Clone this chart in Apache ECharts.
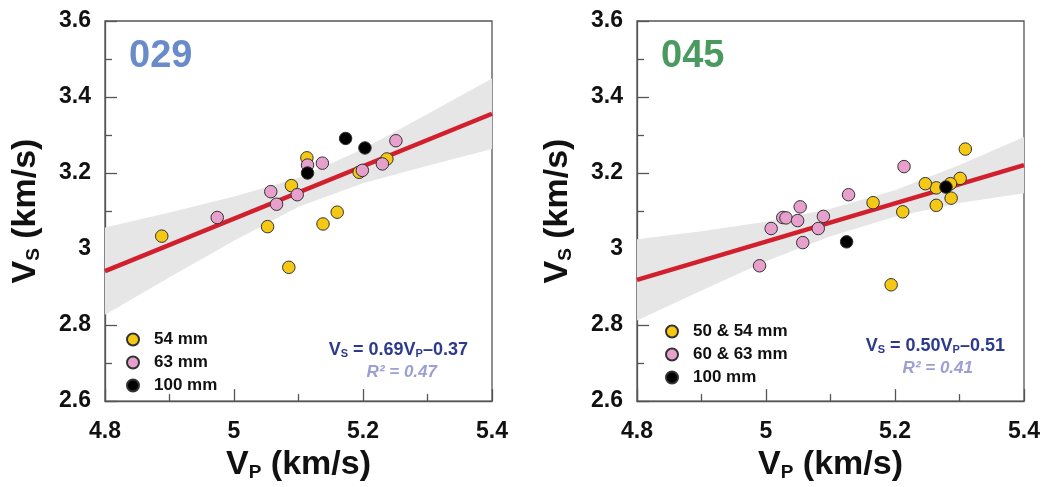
<!DOCTYPE html>
<html>
<head>
<meta charset="utf-8">
<script src="https://cdn.jsdelivr.net/npm/echarts@6/dist/echarts.min.js"></script>
<style>html,body{margin:0;padding:0;background:#fff}#c{width:1043px;height:487px}</style>
</head>
<body>
<div id="c"></div>
<script>
// ---- data ----
const xTicks = [4.8, 5.0, 5.2, 5.4];
const yTicks = [2.6, 2.8, 3.0, 3.2, 3.4, 3.6];

const titles = ['029', '045'];
const legendNamesA = ['54 mm', '63 mm', '100 mm'];
const legendNamesB = ['50 & 54 mm', '60 & 63 mm', '100 mm'];

const a_yellow = [[4.888,3.034],[5.052,3.059],[5.085,2.952],[5.089,3.167],[5.113,3.240],[5.138,3.066],[5.160,3.097],[5.194,3.202],[5.237,3.237]];
const a_pink   = [[4.974,3.083],[5.057,3.151],[5.066,3.118],[5.098,3.143],[5.114,3.221],[5.137,3.226],[5.199,3.207],[5.230,3.224],[5.251,3.285]];
const a_black  = [[5.114,3.200],[5.173,3.291],[5.203,3.266]];
const a_fit    = [[4.8,2.942],[5.4,3.356]];
const a_bandX  = [4.8, 4.9, 5.0, 5.1, 5.2, 5.3, 5.4];
const a_bandHi = [3.057, 3.096, 3.138, 3.187, 3.263, 3.355, 3.449];
const a_bandLo = [2.827, 2.926, 3.022, 3.111, 3.173, 3.219, 3.263];

const b_yellow = [[5.309,3.263],[5.301,3.186],[5.286,3.172],[5.287,3.134],[5.264,3.161],[5.247,3.172],[5.264,3.115],[5.212,3.098],[5.166,3.122],[5.194,2.906]];
const b_pink   = [[4.990,2.956],[5.008,3.054],[5.026,3.083],[5.031,3.082],[5.049,3.075],[5.053,3.111],[5.057,3.017],[5.081,3.054],[5.089,3.086],[5.128,3.143],[5.214,3.217]];
const b_black  = [[5.125,3.019],[5.279,3.163]];
const b_fit    = [[4.8,2.919],[5.4,3.221]];
const b_bandX  = [4.8, 4.9, 5.0, 5.1, 5.2, 5.3, 5.4];
const b_bandHi = [3.026, 3.047, 3.072, 3.106, 3.155, 3.221, 3.295];
const b_bandLo = [2.812, 2.891, 2.968, 3.034, 3.085, 3.121, 3.147];

const eqA = ['0.69', '0.37', '0.47'];
const eqB = ['0.50', '0.51', '0.41'];

// ---- styles ----
const FONT = '"Liberation Sans", Arial, sans-serif';
const C_YEL = '#f5c816', C_PINK = '#e6a0cb', C_BLK = '#000000';
const C_AXIS = '#555555';
const C_RED = '#d21f2d';
const C_BAND = '#e6e6e6';
const C_EQ = '#2d3a8c', C_R2 = '#9c9fd4';

function xAxisFor(gi) {
  return {
    type: 'value', gridIndex: gi, min: 4.8, max: 5.4, interval: 0.2,
    axisLine: { show: true, lineStyle: { color: C_AXIS, width: 1.3 } },
    axisTick: { show: true, inside: true, length: 12, lineStyle: { color: C_AXIS, width: 1.3 } },
    minorTick: { show: true, splitNumber: 2, length: 7, lineStyle: { color: C_AXIS, width: 1.3 } },
    splitLine: { show: false },
    axisLabel: { fontFamily: FONT, fontSize: 23, fontWeight: 'bold', color: '#111', margin: 19,
      formatter: v => xTicks.find(t => Math.abs(t - v) < 1e-6) !== undefined ? String(+v.toFixed(1)) : '' },
    name: '{v|V}{s|P}{v| (km/s)}', nameLocation: 'middle', nameGap: 42,
    nameTextStyle: { rich: {
      v: { fontFamily: FONT, fontSize: 34, fontWeight: 'bold', color: '#111', lineHeight: 38, verticalAlign: 'bottom' },
      s: { fontFamily: FONT, fontSize: 19, fontWeight: 'bold', color: '#111', lineHeight: 12, verticalAlign: 'bottom' } } }
  };
}
function yAxisFor(gi) {
  return {
    type: 'value', gridIndex: gi, min: 2.6, max: 3.6, interval: 0.2,
    axisLine: { show: true, lineStyle: { color: C_AXIS, width: 1.3 } },
    axisTick: { show: true, inside: true, length: 12, lineStyle: { color: C_AXIS, width: 1.3 } },
    minorTick: { show: true, splitNumber: 2, length: 7, lineStyle: { color: C_AXIS, width: 1.3 } },
    splitLine: { show: false },
    axisLabel: { fontFamily: FONT, fontSize: 23, fontWeight: 'bold', color: '#111', margin: 14,
      formatter: v => yTicks.find(t => Math.abs(t - v) < 1e-6) !== undefined ? String(+v.toFixed(1)) : '' },
    name: '{v|V}{s|S}{v| (km/s)}', nameLocation: 'middle', nameGap: 62,
    nameTextStyle: { rich: {
      v: { fontFamily: FONT, fontSize: 34, fontWeight: 'bold', color: '#111', lineHeight: 38, verticalAlign: 'bottom' },
      s: { fontFamily: FONT, fontSize: 19, fontWeight: 'bold', color: '#111', lineHeight: 12, verticalAlign: 'bottom' } } }
  };
}
function bandSeries(gi, xs, hi, lo) {
  return {
    type: 'custom', xAxisIndex: gi, yAxisIndex: gi, silent: true, z: 1,
    data: xs.map((x, i) => [x, hi[i], lo[i]]),
    encode: { x: 0, y: [1, 2] },
    renderItem: (params, api) => {
      if (params.dataIndex !== 0) return null;
      const top = xs.map((x, i) => api.coord([x, hi[i]]));
      const bot = xs.map((x, i) => api.coord([x, lo[i]])).reverse();
      return { type: 'polygon', shape: { points: top.concat(bot) }, style: { fill: C_BAND } };
    }
  };
}
function fitSeries(gi, d) {
  return { type: 'line', xAxisIndex: gi, yAxisIndex: gi, data: d, symbol: 'none', silent: true, z: 2,
    lineStyle: { color: C_RED, width: 4.5 } };
}
function pts(gi, name, d, color) {
  return { type: 'scatter', name: name, xAxisIndex: gi, yAxisIndex: gi, data: d, symbol: 'circle', symbolSize: 12.5, z: 3,
    itemStyle: { color: color, borderColor: '#333', borderWidth: 1, opacity: 1 } };
}
function legendFor(names, left, top) {
  return { data: names, orient: 'vertical', left: left, top: top, icon: 'circle', itemWidth: 12, itemHeight: 12, itemGap: 6,
    selectedMode: false, textStyle: { fontFamily: FONT, fontSize: 17, fontWeight: 'bold', color: '#111', padding: [0, 0, 0, 10] } };
}
function eqText(right, y, slope, icpt) {
  return { type: 'text', x: right, y: y, z: 100, style: {
    text: '{v|V}{s|S}{v| = ' + slope + 'V}{s|P}{v|–' + icpt + '}', align: 'right', verticalAlign: 'middle',
    rich: { v: { fontFamily: FONT, fontSize: 18, fontWeight: 'bold', fill: C_EQ, lineHeight: 20, verticalAlign: 'bottom' },
            s: { fontFamily: FONT, fontSize: 11, fontWeight: 'bold', fill: C_EQ, lineHeight: 8, verticalAlign: 'bottom' } } } };
}
function r2Text(right, y, r2) {
  return { type: 'text', x: right, y: y, z: 100, style: { text: 'R² = ' + r2, align: 'right', verticalAlign: 'middle',
    fontFamily: FONT, fontSize: 17, fontStyle: 'italic', fontWeight: 'bold', fill: C_R2 } };
}
function titleText(x, y, t, c) {
  return { type: 'text', x: x, y: y, z: 100, style: { text: t, verticalAlign: 'middle', fontFamily: FONT, fontSize: 38, fontWeight: 'bold', fill: c } };
}

const chart = echarts.init(document.getElementById('c'), null, { renderer: 'canvas' });
chart.setOption({
  animation: false,
  backgroundColor: '#fff',
  grid: [
    { left: 105, top: 21, width: 387, height: 383, show: true, borderColor: C_AXIS, borderWidth: 1.3, backgroundColor: 'transparent' },
    { left: 637, top: 21, width: 387, height: 383, show: true, borderColor: C_AXIS, borderWidth: 1.3, backgroundColor: 'transparent' }
  ],
  xAxis: [xAxisFor(0), xAxisFor(1)],
  yAxis: [yAxisFor(0), yAxisFor(1)],
  legend: [legendFor(legendNamesA, 121, 326), legendFor(legendNamesB, 660, 318)],
  series: [
    bandSeries(0, a_bandX, a_bandHi, a_bandLo),
    fitSeries(0, a_fit),
    pts(0, legendNamesA[0], a_yellow, C_YEL),
    pts(0, legendNamesA[1], a_pink, C_PINK),
    pts(0, legendNamesA[2], a_black, C_BLK),
    bandSeries(1, b_bandX, b_bandHi, b_bandLo),
    fitSeries(1, b_fit),
    pts(1, legendNamesB[0], b_yellow, C_YEL),
    pts(1, legendNamesB[1], b_pink, C_PINK),
    pts(1, legendNamesB[2], b_black, C_BLK)
  ],
  graphic: [
    titleText(129, 57, titles[0], '#6a8bc9'),
    titleText(661, 57, titles[1], '#4a9a5f'),
    eqText(468, 349, eqA[0], eqA[1]),
    r2Text(437, 372, eqA[2]),
    eqText(1005, 345, eqB[0], eqB[1]),
    r2Text(973, 368, eqB[2])
  ]
});
</script>
</body>
</html>
